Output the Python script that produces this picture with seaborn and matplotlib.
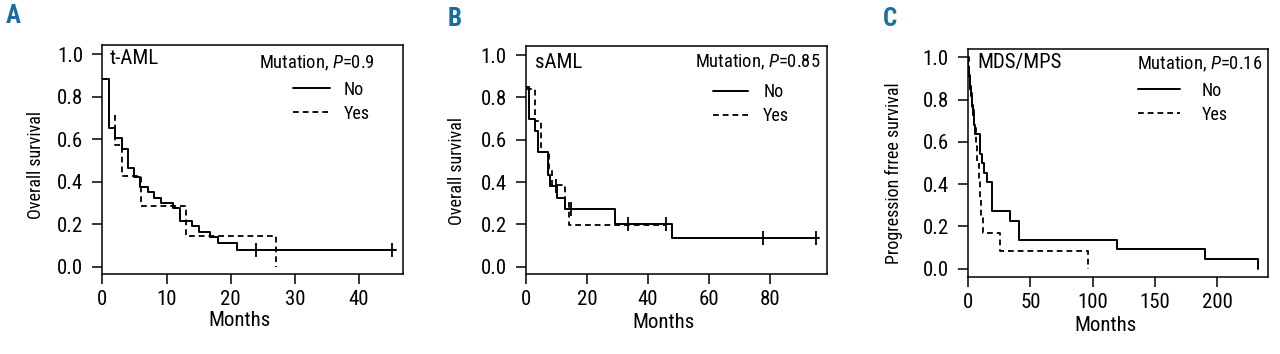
import matplotlib
matplotlib.use("Agg")
import matplotlib.pyplot as plt
import seaborn as sns
import pandas as pd

# ---------------- data ----------------
# Panel A: t-AML, overall survival
a_no_t = [0, 1.0, 2.0, 3.0, 4.0, 5.0, 5.9, 7.1, 8.0, 9.1, 11.0, 12.1, 13.9, 15.1, 16.8, 18.0, 21.0, 45.8]
a_no_s = [0.884, 0.651, 0.604, 0.554, 0.463, 0.424, 0.374, 0.353, 0.325, 0.298, 0.275, 0.217, 0.192, 0.165, 0.141, 0.110, 0.079, 0.079]
a_yes_t = [2.0, 2.0, 3.0, 6.0, 13.0, 27.0]
a_yes_s = [0.714, 0.571, 0.429, 0.286, 0.143, 0.0]
a_cens_t = [23.9, 45.2]
a_cens_s = [0.079, 0.079]

# Panel B: sAML, overall survival
b_no_t = [0, 1.0, 3.0, 3.7, 7.0, 7.9, 10.0, 12.8, 29.1, 47.7, 96.0]
b_no_s = [0.847, 0.698, 0.643, 0.540, 0.433, 0.381, 0.323, 0.272, 0.200, 0.137, 0.137]
b_yes_t = [0, 3.0, 4.9, 7.5, 8.3, 12.8, 13.9, 46.0]
b_yes_s = [0.840, 0.690, 0.540, 0.460, 0.385, 0.300, 0.197, 0.197]
b_cens_t = [9.7, 14.8, 33.3, 45.9, 77.6, 95.0]
b_cens_s = [0.381, 0.272, 0.200, 0.200, 0.137, 0.137]

# Panel C: MDS/MPS, progression free survival
c_no_t = [0, 0.3, 0.8, 1.2, 2.0, 3.0, 4.0, 4.5, 5.2, 9.5, 11.0, 13.0, 15.0, 19.5, 33.5, 40.8, 119.4, 190.0, 232.4]
c_no_s = [1.0, 0.955, 0.909, 0.864, 0.818, 0.773, 0.727, 0.682, 0.636, 0.545, 0.500, 0.455, 0.409, 0.273, 0.227, 0.136, 0.091, 0.045, 0.0]
c_yes_t = [0, 0.5, 1.5, 3.0, 5.0, 6.0, 7.0, 8.5, 9.5, 10.5, 12.0, 26.0, 96.2]
c_yes_s = [1.0, 0.917, 0.833, 0.750, 0.667, 0.583, 0.500, 0.417, 0.333, 0.250, 0.167, 0.083, 0.0]

panel_letters = ["A", "B", "C"]
panel_titles = ["t-AML", "sAML", "MDS/MPS"]
p_values = ["0.9", "0.85", "0.16"]
y_labels = ["Overall survival", "Overall survival", "Progression frree survival"]
x_label = "Months"
legend_labels = ["No", "Yes"]
y_ticks = [0.0, 0.2, 0.4, 0.6, 0.8, 1.0]
x_ticks_list = [[0, 10, 20, 30, 40], [0, 20, 40, 60, 80], [0, 50, 100, 150, 200]]

# ---------------- style ----------------
sns.set_theme(style="ticks")
plt.rcParams['font.family'] = ['Roboto Condensed', 'DejaVu Sans']
plt.rcParams['mathtext.fontset'] = 'custom'
plt.rcParams['mathtext.rm'] = 'Roboto Condensed'
plt.rcParams['mathtext.it'] = 'Roboto Condensed:italic'
plt.rcParams['mathtext.bf'] = 'Roboto Condensed:bold'
plt.rcParams['text.color'] = 'black'
plt.rcParams['axes.labelcolor'] = 'black'

fig = plt.figure(figsize=(12.8, 3.54), dpi=100)

W, H = 1280.0, 354.0
def rect(l, t, r, b):
    return [l / W, 1 - b / H, (r - l) / W, (b - t) / H]

layouts = [
    dict(rect=rect(102, 45, 403, 274), xlim=(-0.05, 46.84), ylim=(-0.034, 1.044),
         xl=(0.458, -0.162), yl=(-0.188, 0.476), title_xy=(0.027, 0.982),
         mut_xy=(0.907, 0.919), leg_xy=(0.633, 0.752), letter_xy=(6, 4),
         hl=2.05, htp=0.8),
    dict(rect=rect(525.7, 45.7, 826.7, 274.3), xlim=(-0.2, 98.65), ylim=(-0.036, 1.044),
         xl=(0.459, -0.169), yl=(-0.197, 0.452), title_xy=(0.031, 0.967),
         mut_xy=(0.978, 0.927), leg_xy=(0.621, 0.745), letter_xy=(448, 7.5),
         hl=1.95, htp=0.85),
    dict(rect=rect(967.7, 49, 1268.3, 276.7), xlim=(-0.3, 240.9), ylim=(-0.038, 1.040),
         xl=(0.457, -0.173), yl=(-0.215, 0.453), title_xy=(0.032, 0.982),
         mut_xy=(0.981, 0.932), leg_xy=(0.567, 0.764), letter_xy=(882.7, 7.5),
         hl=2.3, htp=1.2),
]

data = [
    (a_no_t, a_no_s, a_yes_t, a_yes_s, a_cens_t, a_cens_s),
    (b_no_t, b_no_s, b_yes_t, b_yes_s, b_cens_t, b_cens_s),
    (c_no_t, c_no_s, c_yes_t, c_yes_s, None, None),
]

for i, (lay, d) in enumerate(zip(layouts, data)):
    no_t, no_s, yes_t, yes_s, ce_t, ce_s = d
    ax = fig.add_axes(lay['rect'])
    df_yes = pd.DataFrame({'t': yes_t, 's': yes_s})
    df_no = pd.DataFrame({'t': no_t, 's': no_s})
    sns.lineplot(data=df_no, x='t', y='s', ax=ax, estimator=None, sort=False,
                 drawstyle='steps-post', color='black', linewidth=1.4,
                 label=legend_labels[0], zorder=3)
    sns.lineplot(data=df_yes, x='t', y='s', ax=ax, estimator=None, sort=False,
                 drawstyle='steps-post', color='black', linewidth=1.3,
                 linestyle=(0, (3.2, 2.2)), label=legend_labels[1], zorder=2)
    if ce_t is not None:
        sns.scatterplot(x=ce_t, y=ce_s, ax=ax, marker='|', s=95, color='black',
                        linewidth=1.3, legend=False, zorder=4)

    ax.set_xlim(*lay['xlim'])
    ax.set_ylim(*lay['ylim'])
    ax.set_xticks(x_ticks_list[i])
    ax.set_yticks(y_ticks)
    ax.set_yticklabels([f"{v:.1f}" for v in y_ticks])
    ax.tick_params(axis='both', direction='out', length=7.5, width=1.1,
                   labelsize=15, pad=4, colors='black')
    ax.tick_params(axis='y', pad=6)
    ax.tick_params(top=False, right=False)
    for sp in ax.spines.values():
        sp.set_visible(True)
        sp.set_color('black')
        sp.set_linewidth(1.1)

    ax.set_xlabel(x_label, fontsize=15)
    ax.xaxis.set_label_coords(*lay['xl'])
    ax.set_ylabel(y_labels[i], fontsize=13)
    ax.yaxis.set_label_coords(*lay['yl'])

    ax.text(lay['title_xy'][0], lay['title_xy'][1], panel_titles[i], transform=ax.transAxes,
            ha='left', va='top', fontsize=15)
    ax.text(lay['mut_xy'][0], lay['mut_xy'][1], "Mutation, $\\mathit{P}$=" + p_values[i],
            transform=ax.transAxes, ha='right', va='center', fontsize=13.3)
    ax.legend(loc='center left', bbox_to_anchor=lay['leg_xy'], frameon=False,
              fontsize=13, handlelength=lay['hl'], handletextpad=lay['htp'], borderpad=0,
              borderaxespad=0, labelspacing=0.33)

    fig.text(lay['letter_xy'][0] / W, 1 - lay['letter_xy'][1] / H, panel_letters[i],
             ha='left', va='top', fontsize=18, fontweight=800, color='#1a6e9e')

fig.savefig("out.png", dpi=100)
